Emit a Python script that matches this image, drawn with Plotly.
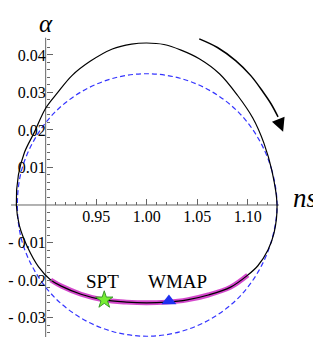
import plotly.graph_objects as go

# closed black trajectory (ns, alpha), read clockwise from the left extreme
traj_ns = [0.871, 0.873, 0.879, 0.889, 0.900, 0.912, 0.926, 0.944, 0.966, 0.985,
           1.000, 1.017, 1.034, 1.052, 1.072, 1.090, 1.105, 1.116, 1.124, 1.129,
           1.126, 1.120, 1.110, 1.100, 1.083, 1.061, 1.040, 1.020, 1.000, 0.980,
           0.957, 0.935, 0.916, 0.905, 0.893, 0.882, 0.874, 0.871]
traj_alpha = [0.000, 0.008, 0.014, 0.0195, 0.0258, 0.030, 0.0345, 0.0383, 0.0416, 0.0429,
              0.0432, 0.0428, 0.0413, 0.0390, 0.0350, 0.0292, 0.0232, 0.0165, 0.009, 0.000,
              -0.0075, -0.0120, -0.0162, -0.0187, -0.0219, -0.0240, -0.0253, -0.0259, -0.0261, -0.0259,
              -0.0253, -0.0238, -0.0217, -0.0200, -0.0165, -0.0112, -0.0055, 0.000]

# highlighted (magenta) stretch of the trajectory
band_ns = [1.100, 1.083, 1.061, 1.040, 1.020, 1.000, 0.980, 0.957, 0.935, 0.916, 0.905]
band_alpha = [-0.0187, -0.0219, -0.0240, -0.0253, -0.0259, -0.0261, -0.0259, -0.0253, -0.0238, -0.0217, -0.0200]

# dashed blue ellipse
ell_ns = [1.129, 1.124, 1.111, 1.091, 1.064, 1.033, 1.000, 0.967, 0.936, 0.909, 0.889, 0.876,
          0.872, 0.876, 0.889, 0.909, 0.936, 0.967, 1.000, 1.033, 1.064, 1.091, 1.111, 1.124, 1.129]
ell_alpha = [0.000, 0.0091, 0.0175, 0.0247, 0.0303, 0.0338, 0.035, 0.0338, 0.0303, 0.0247, 0.0175, 0.0091,
             0.000, -0.0091, -0.0175, -0.0247, -0.0303, -0.0338, -0.035, -0.0338, -0.0303, -0.0247, -0.0175, -0.0091, 0.000]

# curved arrow showing direction
arrow_ns = [1.052, 1.070, 1.088, 1.103, 1.115, 1.123, 1.130]
arrow_alpha = [0.0443, 0.0420, 0.0385, 0.0345, 0.0302, 0.0270, 0.0235]

# experimental points
points = {'SPT': (0.958, -0.0253), 'WMAP': (1.022, -0.0256)}
labels = {'SPT': (0.956, -0.0205), 'WMAP': (1.030, -0.0205)}

x_ticks = [0.95, 1.00, 1.05, 1.10]
x_ticktext = ['0.95', '1.00', '1.05', '1.10']
x_minor = [0.91, 0.92, 0.93, 0.94, 0.96, 0.97, 0.98, 0.99, 1.01, 1.02, 1.03, 1.04,
           1.06, 1.07, 1.08, 1.09, 1.11, 1.12]
y_ticks = [-0.03, -0.02, -0.01, 0.01, 0.02, 0.03, 0.04]
y_ticktext = ['- 0.03', '- 0.02', '- 0.01', '0.01', '0.02', '0.03', '0.04']
y_minor = [v / 1000 for v in range(-34, 46, 2) if v % 10 != 0]

FONT = 'Liberation Serif'
AXIS_COLOR = '#666666'

# the page body adds an 8px offset, so the figure is 8px smaller than the window
x_range = [0.8657, 1.1725]
y_range = [-0.0352, 0.05253]

fig = go.Figure()

fig.add_trace(go.Scatter(x=ell_ns, y=ell_alpha, mode='lines',
                         line=dict(color='#3434ff', width=1.2, dash='5px,3px', shape='spline'),
                         hoverinfo='skip'))
fig.add_trace(go.Scatter(x=band_ns, y=band_alpha, mode='lines',
                         line=dict(color='rgba(205,40,195,0.85)', width=5, shape='spline'),
                         hoverinfo='skip'))
fig.add_trace(go.Scatter(x=traj_ns, y=traj_alpha, mode='lines',
                         line=dict(color='black', width=1.2, shape='spline'),
                         hoverinfo='skip'))
fig.add_trace(go.Scatter(x=arrow_ns, y=arrow_alpha, mode='lines',
                         line=dict(color='black', width=1.5, shape='spline'),
                         hoverinfo='skip'))
fig.add_trace(go.Scatter(x=[points['SPT'][0]], y=[points['SPT'][1]], mode='markers',
                         marker=dict(symbol='star', size=13, color='#77ee33',
                                     line=dict(color='#3a9a2a', width=1))))
fig.add_trace(go.Scatter(x=[points['WMAP'][0]], y=[points['WMAP'][1]], mode='markers',
                         marker=dict(symbol='triangle-up', size=13, color='#1f2ff0',
                                     line=dict(color='#1f2ff0', width=0))))

annotations = [
    dict(x=1.135, y=0.0195, ax=-5, ay=-13, text='', showarrow=True, arrowhead=2,
         arrowsize=1.8, arrowwidth=1.5, arrowcolor='black', standoff=0),
    dict(x=0.9, y=1, yref='paper', yanchor='top', text='<i>α</i>', showarrow=False,
         font=dict(family=FONT, size=25, color='black')),
    dict(x=1.1562, y=0.0019, text='<i>ns</i>', showarrow=False,
         font=dict(family=FONT, size=27, color='black')),
]
for name, (lx, ly) in labels.items():
    annotations.append(dict(x=lx, y=ly, text=name, showarrow=False,
                            font=dict(family=FONT, size=19, color='black')))

shapes = [
    dict(type='line', x0=0.861, x1=1.131, y0=0, y1=0, layer='below',
         line=dict(color=AXIS_COLOR, width=1)),
    dict(type='line', x0=0.9, x1=0.9, y0=y_range[0], y1=0.0446, layer='below',
         line=dict(color=AXIS_COLOR, width=1)),
]

fig.update_layout(
    width=313, height=329,
    margin=dict(l=0, r=0, t=0, b=0, pad=0),
    plot_bgcolor='white', paper_bgcolor='white',
    showlegend=False,
    annotations=annotations,
    shapes=shapes,
    xaxis=dict(range=x_range, domain=[0, 1], anchor='free',
               position=(0 - y_range[0]) / (y_range[1] - y_range[0]),
               showgrid=False, zeroline=False, showline=False,
               tickmode='array', tickvals=x_ticks, ticktext=x_ticktext,
               ticks='inside', ticklen=6, tickwidth=1, tickcolor=AXIS_COLOR,
               minor=dict(tickmode='array', tickvals=x_minor, ticks='inside',
                          ticklen=3, tickwidth=1, tickcolor=AXIS_COLOR, showgrid=False),
               tickfont=dict(family=FONT, size=16, color='black')),
    yaxis=dict(range=y_range, domain=[0, 1], anchor='free',
               position=(0.9 - x_range[0]) / (x_range[1] - x_range[0]),
               showgrid=False, zeroline=False, showline=False,
               tickmode='array', tickvals=y_ticks, ticktext=y_ticktext,
               ticks='inside', ticklen=6, tickwidth=1, tickcolor=AXIS_COLOR,
               minor=dict(tickmode='array', tickvals=y_minor, ticks='inside',
                          ticklen=3, tickwidth=1, tickcolor=AXIS_COLOR, showgrid=False),
               tickfont=dict(family=FONT, size=16, color='black')),
)

fig.write_html("out.html")
